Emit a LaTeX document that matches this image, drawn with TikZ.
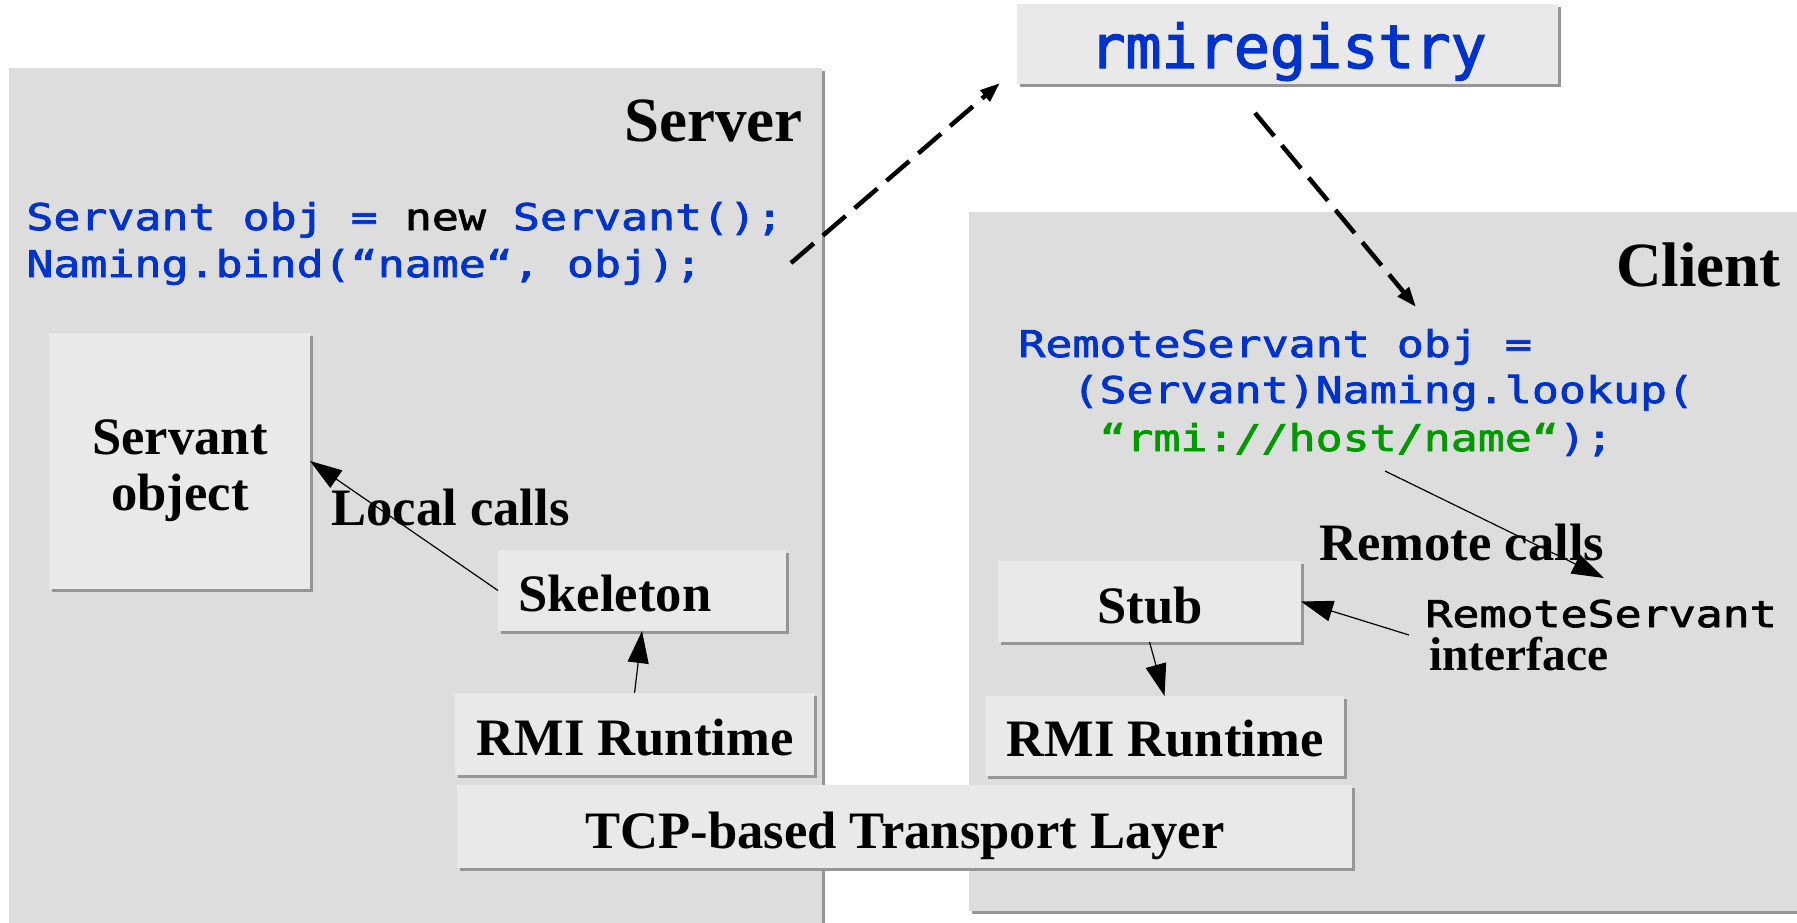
\documentclass[tikz,border=0pt]{standalone}
\usepackage{fontspec}
\setmainfont{Liberation Serif}
\newfontfamily\codefont[FakeStretch=1.22,FakeBold=2.2]{DejaVu Sans Mono}
\newfontfamily\regfont[FakeBold=2.2]{DejaVu Sans Mono}
\usetikzlibrary{arrows.meta,fit,shadows}
\definecolor{codeblue}{RGB}{0,51,204}
\definecolor{codegreen}{RGB}{0,153,0}
\definecolor{panelgray}{RGB}{221,221,221}
\definecolor{boxgray}{RGB}{233,233,233}
\definecolor{shadowgray}{RGB}{150,150,150}

\begin{document}
\begin{tikzpicture}[x=0.5pt,y=-0.5pt,
  shadowed/.style={drop shadow={shadow xshift=1.5pt,shadow yshift=-1.5pt,fill=shadowgray,opacity=1}},
  panel/.style={fill=panelgray,inner sep=0pt,outer sep=0pt,shadowed},
  layerbox/.style={fill=boxgray,inner sep=0pt,outer sep=0pt,shadowed},
  title/.style={font=\bfseries\fontsize{31.5pt}{36pt}\selectfont,inner sep=0pt,anchor=base east},
  lbl/.style={font=\bfseries\fontsize{26.3pt}{30pt}\selectfont,inner sep=0pt},
  code/.style={font=\codefont\fontsize{18.4pt}{22pt}\selectfont,inner sep=0pt,anchor=base west,text=codeblue},
  call/.style={-{Triangle[length=16pt,width=10.5pt]},line width=0.6pt},
  lookup/.style={-{Triangle[length=10pt,width=7pt]},line width=2.25pt,dash pattern=on 15pt off 6pt},
]
\useasboundingbox (0,0) rectangle (1797,922);
\fill[white] (0,0) rectangle (1797,922);

% server and client panels
\node[panel,fit={(9,68) (822,930)}] (server) {};
\node[panel,fit={(969,212) (1810,911)}] (client) {};

% naming service
\node[layerbox,fit={(1017,4) (1558,84)}] (registry) {};
\node[font=\regfont\fontsize{30pt}{34pt}\selectfont,text=codeblue,inner sep=0pt,anchor=base] (regname) at (1288,68) {rmiregistry};

% bind and lookup through the registry
\coordinate (bindfrom) at (791,263);
\coordinate (regin) at (1000,83);
\coordinate (regout) at (1255,113);
\coordinate (lookupto) at (1416,307);
\draw[lookup] (bindfrom) -- (regin);
\draw[lookup] (regout) -- (lookupto);

% titles
\node[title] (servertitle) at (803,141) {Server};
\node[title] (clienttitle) at (1781,286) {Client};

% server code
\node[code] (bind1) at (26,230) {Servant obj = \textcolor{black}{new} Servant();};
\node[code] (bind2) at (26,277) {Naming.bind(“name“, obj);};

% client code
\node[code] (look1) at (1018,357) {RemoteServant obj =};
\node[code] (look2) at (1072,403) {(Servant)Naming.lookup(};
\node[code] (look3) at (1099,451) {\textcolor{codegreen}{“rmi://host/name“});};

% server side layers
\node[layerbox,fit={(49,333) (310,589)}] (servobj) {};
\node[lbl,anchor=base] (servobjA) at (180,454) {Servant};
\node[lbl,anchor=base] (servobjB) at (180,510) {object};

\node[layerbox,fit={(498,550) (786,631)}] (skel) {};
\node[lbl,anchor=base west] (skeltext) at (518,611) {Skeleton};

\node[layerbox,fit={(455,693) (814,775)}] (rmis) {};
\node[lbl,anchor=base] (rmistext) at (635,755) {RMI Runtime};

% client side layers
\node[layerbox,fit={(998,561) (1301,642)}] (stub) {};
\node[lbl,anchor=base] (stubtext) at (1150,623) {Stub};

\node[layerbox,fit={(985,696) (1344,776)}] (rmic) {};
\node[lbl,anchor=base] (rmictext) at (1165,756) {RMI Runtime};

% transport
\node[layerbox,fit={(457,785) (1352,868)}] (tcp) {};
\node[lbl,anchor=base] (tcptext) at (905,848) {TCP-based Transport Layer};

% call labels
\node[lbl,anchor=base west] (localcalls) at (331,525) {Local calls};
\node[lbl,anchor=base west] (remotecalls) at (1319,560) {Remote calls};
\node[code,text=black] (ifname) at (1425,627) {RemoteServant};
\node[lbl,font=\bfseries\fontsize{23.7pt}{28pt}\selectfont,anchor=base west] (iftext) at (1429,670) {interface};

% calls
\coordinate (ifsrc) at (1409,635);
\coordinate (remfrom) at (1385,471);
\coordinate (remto) at (1604,578);
\draw[call] (skel.west) -- (servobj.east);
\draw[call] (rmis.north) -- (skel.south);
\draw[call] (stub.south) -- (rmic.north);
\draw[call] (ifsrc) -- (stub.east);
\draw[call] (remfrom) -- (remto);
\end{tikzpicture}
\end{document}
